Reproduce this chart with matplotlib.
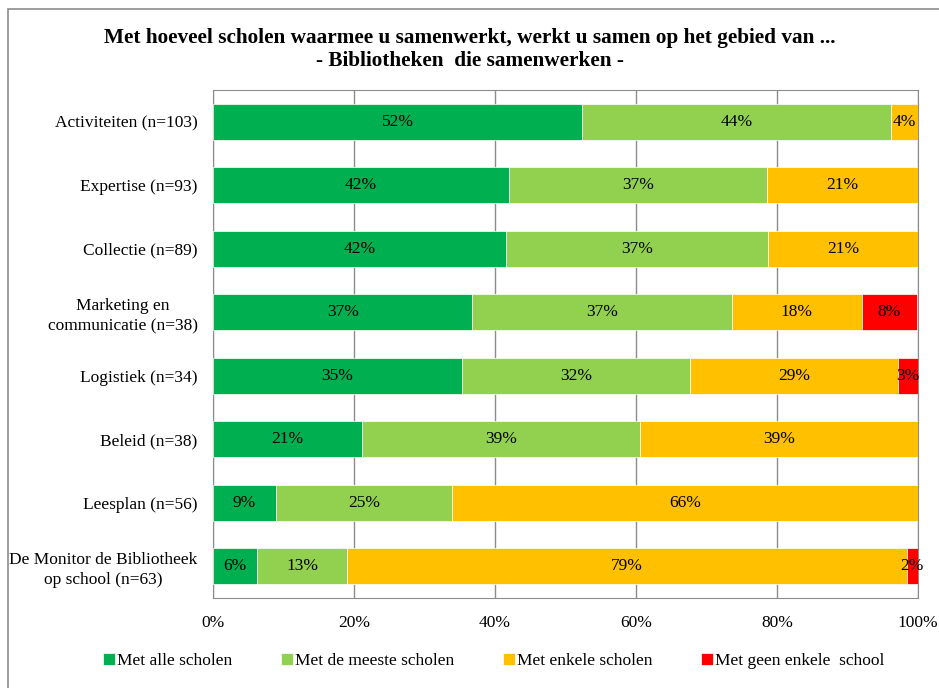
import numpy as np
import matplotlib.pyplot as plt
from matplotlib.patches import Rectangle

# Categories top to bottom
categories = ['Activiteiten (n=103)', 'Expertise (n=93)', 'Collectie (n=89)',
              'Marketing en\ncommunicatie (n=38)', 'Logistiek (n=34)',
              'Beleid (n=38)', 'Leesplan (n=56)',
              'De Monitor de Bibliotheek\nop school (n=63)']
series = ['Met alle scholen', 'Met de meeste scholen', 'Met enkele scholen',
          'Met geen enkele  school']
alle = [52.4, 42.0, 41.6, 36.8, 35.3, 21.2, 8.9, 6.3]
meeste = [43.7, 36.6, 37.1, 36.8, 32.4, 39.4, 25.0, 12.7]
enkele = [3.9, 21.4, 21.3, 18.4, 29.4, 39.4, 66.1, 79.4]
geen = [0.0, 0.0, 0.0, 7.9, 2.9, 0.0, 0.0, 1.6]
colors = ['#00B050', '#92D050', '#FFC000', '#FF0000']
xticks = [0, 20, 40, 60, 80, 100]

plt.rcParams['font.family'] = ['Liberation Serif', 'DejaVu Serif']

fig = plt.figure(figsize=(9.39, 6.88), dpi=100)
ax = fig.add_axes([213 / 939, 1 - 598 / 688, 705 / 939, 508 / 688])

# outer chart border (only top and left visible)
fig.patches.append(Rectangle((8 / 939, -0.05), 1.2, 1 - 9 / 688 + 0.05,
                             transform=fig.transFigure, fill=False,
                             edgecolor='#8c8c8c', linewidth=1.2))

y = np.arange(len(categories))
left = np.zeros(len(categories))
for vals, col, name in zip([alle, meeste, enkele, geen], colors, series):
  vals = np.array(vals)
  ax.barh(y, vals, left=left, height=0.57, color=col, label=name,
          edgecolor='white', linewidth=0.5, zorder=3)
  for yi, l, v in zip(y, left, vals):
    if v > 0:
      ax.text(l + v / 2, yi, '%d%%' % round(v), ha='center', va='center',
              fontsize=12.5, zorder=4)
  left += vals

ax.set_xlim(0, 100)
ax.set_ylim(len(categories) - 0.5, -0.5)
ax.set_yticks(y)
ax.set_yticklabels(categories, fontsize=12.5, linespacing=1.35,
                   multialignment='center')
ax.set_xticks(xticks)
ax.set_xticklabels(['%d%%' % t for t in xticks], fontsize=12.5)
ax.tick_params(length=0, pad=11)
ax.tick_params(axis='x', pad=12)
ax.grid(axis='x', color='#8c8c8c', linewidth=1.0, zorder=0)
for sp in ax.spines.values():
  sp.set_color('#8c8c8c')

fig.text(0.5, 1 - 50 / 688, 'Met hoeveel scholen waarmee u samenwerkt, werkt u samen op het gebied van ...\n- Bibliotheken  die samenwerken -',
         ha='center', va='center', fontsize=15.3, fontweight='bold',
         linespacing=1.2)

fig.legend(loc='center', bbox_to_anchor=(0.5256, 1 - 661 / 688), ncol=4,
           frameon=False, fontsize=12.5, handlelength=0.7, handleheight=0.7,
           handletextpad=0.1, columnspacing=2.8)

fig.savefig('out.png', dpi=100)
